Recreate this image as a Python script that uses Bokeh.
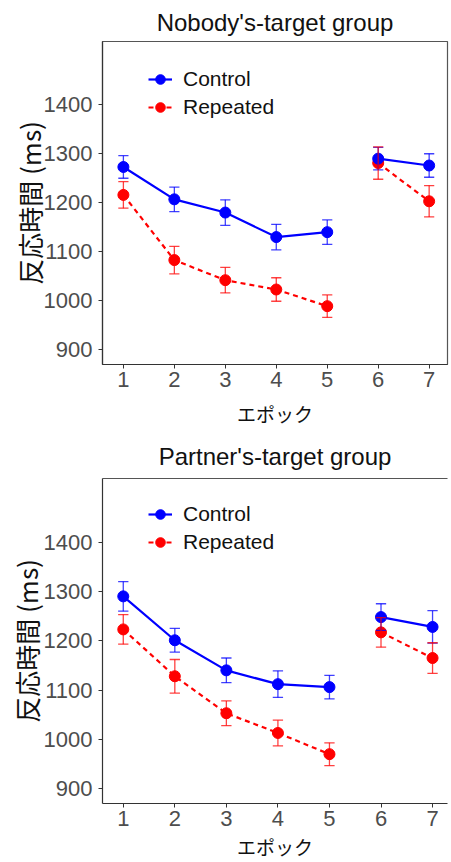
from bokeh.plotting import figure
from bokeh.layouts import column
from bokeh.models import Range1d, Legend, LegendItem, LinearAxis, FixedTicker
from bokeh.embed import file_html
from bokeh.resources import INLINE

# Mean reaction times (ms) and error-bar half widths per epoch
epochs = [1, 2, 3, 4, 5, 6, 7]
epoch_ticks = [1, 2, 3, 4, 5, 6, 7]
rt_ticks = [900, 1000, 1100, 1200, 1300, 1400]

nobody_control = [1273, 1207, 1180, 1130, 1140, 1290, 1276]
nobody_control_err = [23, 25, 26, 26, 25, 23, 24]
nobody_repeated = [1216, 1083, 1042, 1023, 989, 1281, 1203]
nobody_repeated_err = [27, 28, 26, 24, 23, 33, 32]

partner_control = [1290, 1201, 1140, 1112, 1106, 1248, 1228]
partner_control_err = [30, 24, 25, 27, 24, 27, 33]
partner_repeated = [1223, 1128, 1053, 1013, 970, 1217, 1165]
partner_repeated_err = [30, 34, 25, 26, 23, 30, 31]

# epochs 1-5 and 6-7 are drawn as separate line runs
runs = [slice(0, 5), slice(5, 7)]

BLUE = "#0000FF"
RED = "#FF0000"
SANS = "Liberation Sans"
CJK = "Noto Sans CJK JP"
Y_LO, Y_HI = 870, 1529


def make_panel(title, control, control_err, repeated, repeated_err,
               x_start, x_end, left_border, right_border, top_border,
               frame_h, height, title_standoff, xlabel_standoff,
               ylabel_standoff):
    p = figure(width=451, height=height, output_backend="svg",
               toolbar_location=None, x_range=Range1d(x_start, x_end),
               y_range=Range1d(Y_LO, Y_HI), min_border_left=left_border,
               min_border_right=right_border, min_border_top=top_border,
               min_border_bottom=height - top_border - frame_h,
               title=title)
    p.title.align = "center"
    p.title.text_font = SANS
    p.title.text_font_size = "24px"
    p.title.text_font_style = "normal"
    p.title.text_color = "#111111"
    p.title.standoff = title_standoff
    p.grid.visible = False
    p.background_fill_color = "white"
    p.border_fill_color = "white"

    for ax in (p.xaxis[0], p.yaxis[0]):
        ax.axis_line_color = "#333333"
        ax.axis_line_width = 1.2
        ax.major_tick_line_color = "#333333"
        ax.major_tick_out = 4
        ax.major_tick_in = 0
        ax.minor_tick_line_color = None
        ax.major_label_text_font = SANS
        ax.major_label_text_font_size = "22px"
        ax.major_label_text_color = "#4D4D4D"
        ax.axis_label_text_font = CJK
        ax.axis_label_text_color = "#111111"
        ax.axis_label_text_font_style = "normal"
    p.xaxis.ticker = FixedTicker(ticks=epoch_ticks)
    p.yaxis.ticker = FixedTicker(ticks=rt_ticks)
    p.xaxis.axis_label = "エポック"
    p.xaxis.axis_label_text_font_size = "19px"
    p.xaxis.major_label_standoff = 3
    p.xaxis.axis_label_standoff = xlabel_standoff
    p.yaxis.axis_label = "反応時間 (ms)"
    p.yaxis.axis_label_text_font_size = "26px"
    p.yaxis.major_label_standoff = 6
    p.yaxis.axis_label_standoff = ylabel_standoff

    series = [("Repeated", repeated, repeated_err, RED, "dashed"),
              ("Control", control, control_err, BLUE, "solid")]
    glyphs = {}
    for name, vals, err, color, dash in series:
        line_rs = []
        for r in runs:
            lr = p.line(epochs[r], vals[r], line_color=color, line_width=2.2,
                        line_dash="5 4" if dash == "dashed" else "solid")
            line_rs.append(lr)
        sr = p.scatter(epochs, vals, size=11, fill_color=color,
                       line_color=color)
        glyphs[name] = [line_rs[0], sr]

    # error bars drawn over the points
    for name, vals, err, color, dash in [series[1], series[0]]:
        lo = [v - e for v, e in zip(vals, err)]
        hi = [v + e for v, e in zip(vals, err)]
        left = [x - 0.1 for x in epochs]
        right = [x + 0.1 for x in epochs]
        kw = dict(line_color=color, line_width=1.3, line_alpha=0.75)
        p.segment(epochs, lo, epochs, hi, **kw)
        p.segment(left, lo, right, lo, **kw)
        p.segment(left, hi, right, hi, **kw)

    legend = Legend(items=[LegendItem(label="Control", renderers=glyphs["Control"]),
                           LegendItem(label="Repeated", renderers=glyphs["Repeated"])],
                    location=(46, frame_h - 81), padding=0, spacing=0,
                    glyph_width=24, glyph_height=28, label_height=28,
                    label_standoff=11, label_text_font=SANS,
                    label_text_font_size="21px", label_text_color="#111111",
                    border_line_color=None, background_fill_alpha=0)
    p.add_layout(legend, "center")
    return p


top = make_panel("Nobody's-target group", nobody_control, nobody_control_err,
                 nobody_repeated, nobody_repeated_err,
                 x_start=0.59, x_end=7.36, left_border=99, right_border=4,
                 top_border=40, frame_h=324, height=431,
                 title_standoff=12, xlabel_standoff=10, ylabel_standoff=-7)
top.outline_line_color = "#555555"
top.outline_line_width = 1.2

bottom = make_panel("Partner's-target group", partner_control,
                    partner_control_err, partner_repeated,
                    partner_repeated_err, x_start=0.597, x_end=7.29,
                    left_border=102, right_border=0, top_border=46,
                    frame_h=328, height=431,
                    title_standoff=18, xlabel_standoff=4, ylabel_standoff=-4)
bottom.outline_line_color = None
edge = LinearAxis(ticker=FixedTicker(ticks=[]), axis_line_color="#555555",
                  axis_line_width=1.2, major_tick_line_color=None,
                  minor_tick_line_color=None, major_label_text_font_size="0px")
bottom.add_layout(edge, "above")

layout = column(top, bottom)
open("out.html", "w").write(file_html(layout, INLINE))
